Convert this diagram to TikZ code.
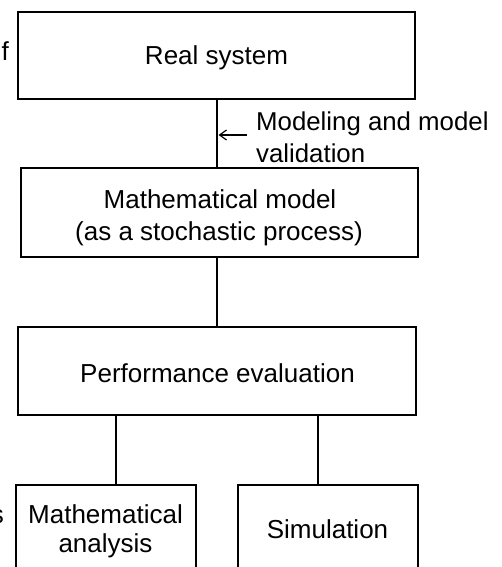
\documentclass[tikz,border=0pt]{standalone}
\usepackage{fontspec}
\setmainfont{Liberation Sans}
\usetikzlibrary{arrows.meta}
\begin{document}
\begin{tikzpicture}[x=1pt,y=-1pt,
  box/.style={draw,line width=1.2pt,inner sep=0pt},
  conn/.style={line width=1.2pt},
  txt/.style={inner sep=0pt,anchor=base,font=\fontsize{26}{32}\selectfont},
  lbl/.style={inner sep=0pt,anchor=base west,font=\fontsize{25.8}{32}\selectfont}]
\useasboundingbox (0,0) rectangle (502,567);
% boxes
\node[box,minimum width=397pt,minimum height=87pt] (rs) at (216.5,55.5) {};
\node[box,minimum width=397pt,minimum height=89pt] (mm) at (219.5,212.5) {};
\node[box,minimum width=398pt,minimum height=88pt] (pe) at (217,371) {};
\node[box,minimum width=180pt,minimum height=90pt] (ma) at (106,530) {};
\node[box,minimum width=180pt,minimum height=90pt] (si) at (328,530) {};
% box texts
\node[txt] (rst) at (216.5,65) {Real system};
\node[txt] (mmt1) at (220,208) {Mathematical model};
\node[txt] (mmt2) at (219,240) {(as a stochastic process)};
\node[txt] (pet) at (217.5,382) {Performance evaluation};
\node[txt] (mat1) at (105.5,523) {Mathematical};
\node[txt] (mat2) at (105.5,552) {analysis};
\node[txt] (sit) at (327.5,538) {Simulation};
% connectors
\coordinate (c1) at (217,0);
\coordinate (lx) at (116,0);
\coordinate (rx) at (318,0);
\draw[conn] (rs.south -| c1) -- (mm.north -| c1);
\draw[conn] (mm.south -| c1) -- (pe.north -| c1);
\draw[conn] (pe.south -| lx) -- (ma.north -| lx);
\draw[conn] (pe.south -| rx) -- (si.north -| rx);
% annotation arrow
\coordinate (as) at (247,135);
\coordinate (ae) at (218.5,135);
\draw[line width=1.2pt,-{Straight Barb[length=7pt,width=10pt]}] (as) -- (ae);
\node[lbl] (ml1) at (256,130) {Modeling and model};
\node[lbl] (ml2) at (256,162) {validation};
% cut-off text fragments at the left edge
\node[txt,anchor=base east] (ff) at (9,61) {f};
\node[txt,anchor=base east] (ss) at (4,523) {s};
\end{tikzpicture}
\end{document}
